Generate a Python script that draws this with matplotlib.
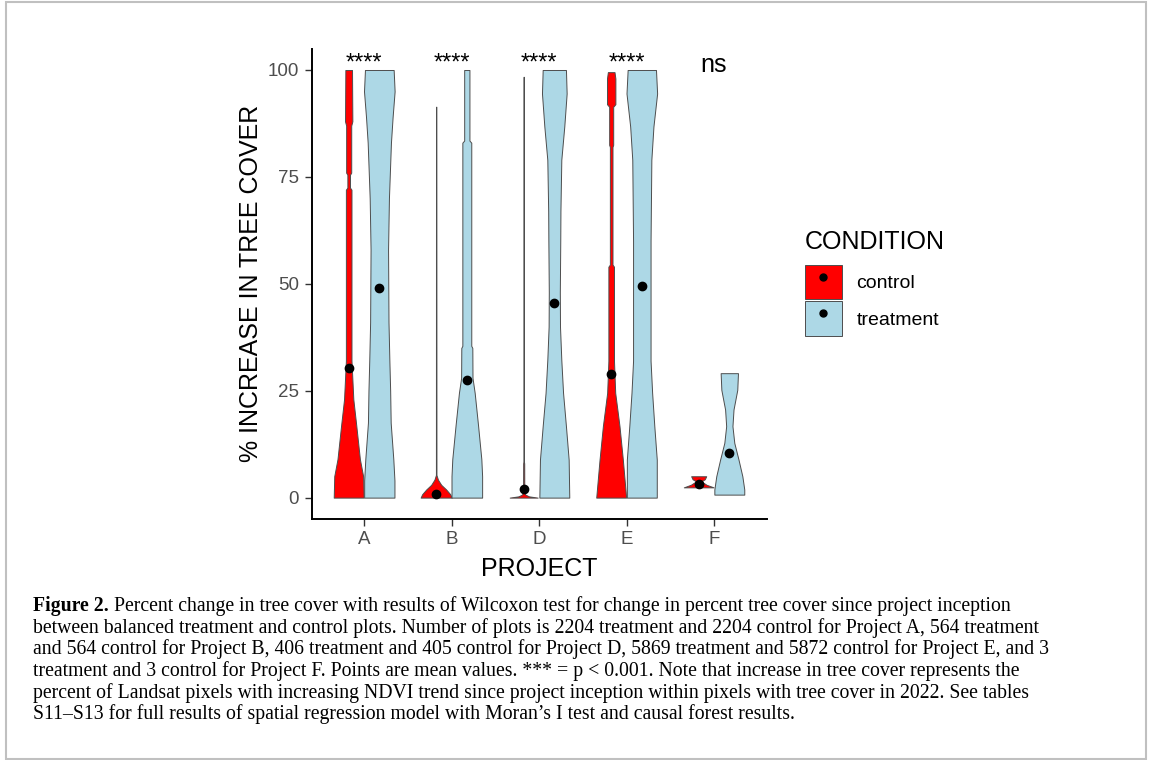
import matplotlib
matplotlib.use("Agg")
import matplotlib.pyplot as plt
from matplotlib.patches import Patch, Rectangle
from matplotlib.lines import Line2D
from matplotlib.legend_handler import HandlerTuple

plt.rcParams['font.family'] = ['Liberation Sans', 'DejaVu Sans']

# --- data ---
projects = ["A", "B", "D", "E", "F"]
significance = ["****", "****", "****", "****", "ns"]
mean_control = [30.4, 0.9, 2.0, 29.0, 3.3]
mean_treatment = [49.1, 27.6, 45.5, 49.4, 10.4]

# violin outlines: y values and half widths (in x units)
ctrl_A_y = [0, 5, 9, 17, 23, 32, 72, 72.5, 75.5, 76, 87, 88, 100]
ctrl_A_w = [0.171, 0.165, 0.128, 0.086, 0.053, 0.032, 0.032, 0.015, 0.015, 0.029, 0.029, 0.042, 0.038]
ctrl_B_y = [0, 0.8, 1.9, 3.0, 4.2, 5.3, 91.4]
ctrl_B_w = [0.178, 0.16, 0.114, 0.057, 0.02, 0.003, 0.002]
ctrl_D_y = [0, 0.3, 0.7, 1.2, 8, 8.5, 98.4]
ctrl_D_w = [0.16, 0.06, 0.02, 0.007, 0.006, 0.002, 0.002]
ctrl_E_y = [0, 8.9, 16.7, 24.5, 32, 54, 54.5, 82, 82.5, 91.4, 92, 98, 99.5]
ctrl_E_w = [0.171, 0.133, 0.095, 0.046, 0.032, 0.032, 0.015, 0.015, 0.023, 0.023, 0.048, 0.048, 0.038]
ctrl_F_y = [2.4, 3.0, 3.8, 4.3, 5.0]
ctrl_F_w = [0.17, 0.09, 0.03, 0.07, 0.086]

trt_A_y = [0, 4, 9, 17.5, 25, 32, 41, 58, 70, 83, 89, 95, 100]
trt_A_w = [0.173, 0.173, 0.16, 0.13, 0.124, 0.115, 0.105, 0.10, 0.11, 0.133, 0.152, 0.175, 0.164]
trt_B_y = [0, 5, 9, 17, 24.5, 28, 35, 35.5, 83, 83.5, 100]
trt_B_w = [0.175, 0.175, 0.166, 0.128, 0.09, 0.065, 0.063, 0.051, 0.051, 0.030, 0.030]
trt_D_y = [0, 8.9, 16.7, 24.5, 32.2, 40, 48, 60, 67, 79, 86.8, 94.5, 100]
trt_D_w = [0.171, 0.164, 0.133, 0.10, 0.08, 0.065, 0.063, 0.068, 0.07, 0.08, 0.114, 0.141, 0.133]
trt_E_y = [0, 8.9, 16.7, 24.5, 32, 60, 79, 86.8, 94.5, 100]
trt_E_w = [0.171, 0.171, 0.143, 0.118, 0.10, 0.10, 0.109, 0.133, 0.175, 0.162]
trt_F_y = [0.7, 1.9, 5.0, 8.9, 12.8, 16.7, 20.6, 25.2, 29.1]
trt_F_w = [0.171, 0.171, 0.149, 0.105, 0.057, 0.036, 0.048, 0.091, 0.099]

control_shapes = [(ctrl_A_y, ctrl_A_w), (ctrl_B_y, ctrl_B_w), (ctrl_D_y, ctrl_D_w),
                  (ctrl_E_y, ctrl_E_w), (ctrl_F_y, ctrl_F_w)]
treatment_shapes = [(trt_A_y, trt_A_w), (trt_B_y, trt_B_w), (trt_D_y, trt_D_w),
                    (trt_E_y, trt_E_w), (trt_F_y, trt_F_w)]

caption_bold = "Figure 2."
caption_lines = [
    " Percent change in tree cover with results of Wilcoxon test for change in percent tree cover since project inception",
    "between balanced treatment and control plots. Number of plots is 2204 treatment and 2204 control for Project A, 564 treatment",
    "and 564 control for Project B, 406 treatment and 405 control for Project D, 5869 treatment and 5872 control for Project E, and 3",
    "treatment and 3 control for Project F. Points are mean values. *** = p < 0.001. Note that increase in tree cover represents the",
    "percent of Landsat pixels with increasing NDVI trend since project inception within pixels with tree cover in 2022. See tables",
    "S11\u2013S13 for full results of spatial regression model with Moran\u2019s I test and causal forest results.",
]

col_control = "#FF0000"
col_treat = "#ADD8E6"
edge = "#4d4d4d"
dodge = 0.175
cap_size = 14.2

W, H = 1152, 760
fig = plt.figure(figsize=(W / 100, H / 100), dpi=100)
ax = fig.add_axes([311.5 / W, 241 / H, 455 / W, 470.4 / H])

for i, p in enumerate(projects):
    x = i + 1
    for (ys, ws), off, col in [(control_shapes[i], -dodge, col_control),
                               (treatment_shapes[i], dodge, col_treat)]:
        cx = x + off
        left = [cx - w for w in ws]
        right = [cx + w for w in ws]
        ax.fill_betweenx(ys, left, right, facecolor=col, edgecolor=edge, linewidth=0.7, zorder=2)
    ax.plot(x - dodge, mean_control[i], 'o', color='black', markersize=6, zorder=3)
    ax.plot(x + dodge, mean_treatment[i], 'o', color='black', markersize=6, zorder=3)
    if significance[i] == "ns":
        ax.text(x, 99.6, significance[i], ha='center', va='baseline', fontsize=18)
    else:
        ax.text(x, 100.0, significance[i], ha='center', va='baseline', fontsize=17)

ax.set_xlim(0.4, 5.6)
ax.set_ylim(-5, 105)
ax.set_xticks(range(1, len(projects) + 1))
ax.set_xticklabels(projects)
ax.set_yticks([0, 25, 50, 75, 100])
ax.tick_params(length=5, width=1, color='#333333', labelsize=13.5, labelcolor='#4d4d4d', pad=4)
for s in ['top', 'right']:
    ax.spines[s].set_visible(False)
for s in ['left', 'bottom']:
    ax.spines[s].set_linewidth(1.4)
ax.set_xlabel("PROJECT", fontsize=18, labelpad=6)
ax.set_ylabel("% INCREASE IN TREE COVER", fontsize=18, labelpad=3)

# legend
fig.text(805 / W, 1 - 242 / H, "CONDITION", fontsize=18, va='center', ha='left')
handles = [
    (Patch(facecolor=col_control, edgecolor=edge, linewidth=0.7),
     Line2D([], [], marker='o', color='black', linestyle='none', markersize=5)),
    (Patch(facecolor=col_treat, edgecolor=edge, linewidth=0.7),
     Line2D([], [], marker='o', color='black', linestyle='none', markersize=5)),
]
fig.legend(handles, ["control", "treatment"],
           handler_map={tuple: HandlerTuple(ndivide=1, pad=0)},
           loc='upper left', bbox_to_anchor=(805 / W, 1 - 265 / H),
           frameon=False, fontsize=14,
           handlelength=1.9, handleheight=2.35, labelspacing=0.1,
           handletextpad=0.75, borderpad=0, borderaxespad=0)

# caption
y0 = 1 - 611 / H
bold = fig.text(33 / W, y0, caption_bold, fontsize=cap_size, fontweight='bold',
                family='Liberation Serif', va='baseline')
ax.annotate(caption_lines[0], xy=(1, 0), xycoords=bold, fontsize=cap_size,
            family='Liberation Serif', va='bottom', ha='left', annotation_clip=False)
for k, line in enumerate(caption_lines[1:], start=1):
    fig.text(33 / W, y0 - k * 21.7 / H, line, fontsize=cap_size,
             family='Liberation Serif', va='baseline')

fig.patches.append(Rectangle((6 / W, 1 / H), 1140 / W, 757 / H, transform=fig.transFigure,
                             fill=False, edgecolor='#c0c0c0', linewidth=1.5))

fig.savefig("out.png", dpi=100)
